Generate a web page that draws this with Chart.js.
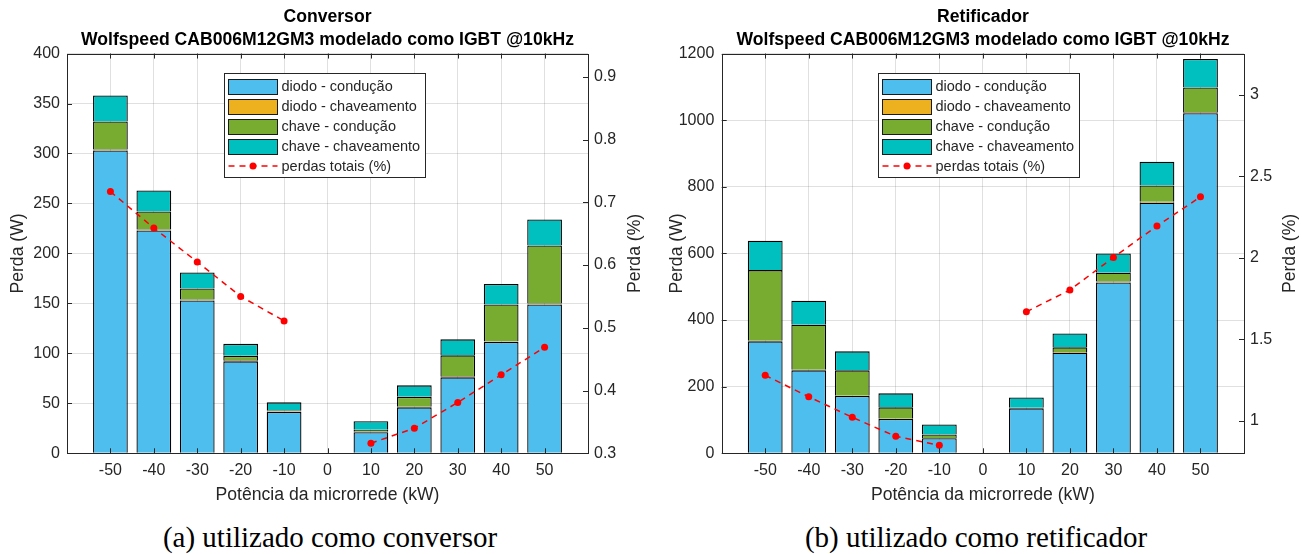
<!DOCTYPE html>
<html lang="pt">
<head>
<meta charset="utf-8">
<title>Perdas CAB006M12GM3</title>
<script src="https://cdn.jsdelivr.net/npm/chart.js@4"></script>
<style>
  body { margin: 0; background: #fff; width: 1311px; height: 554px; position: relative; overflow: hidden; }
  canvas { position: absolute; top: 0; }
  #conv { left: 0; }
  #ret { left: 655px; }
  .legenda {
    position: absolute; top: 519px;
    font-family: "Liberation Serif", "Times New Roman", serif;
    font-size: 29px; line-height: 36px; color: #000;
    transform: translateX(-50%); white-space: nowrap;
  }
</style>
</head>
<body>
<canvas id="conv" width="655" height="510"></canvas>
<canvas id="ret" width="656" height="510"></canvas>
<div class="legenda" style="left:330px">(a) utilizado como conversor</div>
<div class="legenda" style="left:976px">(b) utilizado como retificador</div>
<script>
// categorias (kW)
const potencia = [-50, -40, -30, -20, -10, 0, 10, 20, 30, 40, 50];

// conversor - perdas em W
const convDiodoCond = [303, 223, 153, 92, 41.5, null, 21, 46, 76, 111.5, 149];
const convDiodoChav = [1, 1, 1, 1, 0.5, null, 0.5, 0.5, 1, 0.5, 1];
const convChaveCond = [28, 18, 11, 4.5, 1, null, 2, 10, 21, 37, 58];
const convChaveChav = [26, 21, 16, 12, 8, null, 8.5, 11.5, 16, 20.5, 26];
const convPerdaPct = [0.717, 0.659, 0.605, 0.550, 0.511, null, 0.316, 0.340, 0.381, 0.425, 0.469];

// retificador - perdas em W
const retDiodoCond = [336, 249, 172, 103, 45, null, 135, 302, 513, 752, 1021];
const retDiodoChav = [2, 2, 1, 1, 0.5, null, 1, 2, 3, 3, 3];
const retChaveCond = [212, 135, 76, 34, 11, null, 0.5, 14, 26, 49, 74];
const retChaveChav = [88, 72, 57, 42, 30, null, 31, 42, 58, 71, 86];
const retPerdaPct = [1.279, 1.147, 1.021, 0.904, 0.849, null, 1.669, 1.803, 2.003, 2.196, 2.375];

// ticks
const convTicksW = [0, 50, 100, 150, 200, 250, 300, 350, 400];
const convTicksPct = [0.3, 0.4, 0.5, 0.6, 0.7, 0.8, 0.9];
const retTicksW = [0, 200, 400, 600, 800, 1000, 1200];
const retTicksPct = [1, 1.5, 2, 2.5, 3];

const nomesSeries = ['diodo - condução', 'diodo - chaveamento', 'chave - condução', 'chave - chaveamento', 'perdas totais (%)'];
const coresSeries = ['#4DBEEE', '#EDB120', '#77AC30', '#00BFBF'];

const FONTE = '"Liberation Sans", Arial, Helvetica, sans-serif';
const COR_EIXO = '#262626';
const COR_GRADE = 'rgba(38,38,38,0.14)';

Chart.defaults.font.family = FONTE;
Chart.defaults.color = COR_EIXO;

// caixa do eixo, ticks para dentro, legenda e titulo do eixo direito (estilo MATLAB)
const eixosMatlab = {
  id: 'eixosMatlab',
  afterDatasetsDraw(chart) {
    const { ctx, chartArea: a, scales } = chart;
    const r = v => Math.round(v) + 0.5;
    ctx.save();
    ctx.strokeStyle = COR_EIXO;
    ctx.lineWidth = 1;
    ctx.beginPath();
    scales.x.ticks.forEach(t => {
      const px = r(scales.x.getPixelForValue(t.value));
      ctx.moveTo(px, a.bottom); ctx.lineTo(px, a.bottom - 5);
      ctx.moveTo(px, a.top); ctx.lineTo(px, a.top + 5);
    });
    scales.y.ticks.forEach(t => {
      const py = r(scales.y.getPixelForValue(t.value));
      ctx.moveTo(a.left, py); ctx.lineTo(a.left + 5, py);
    });
    scales.y1.ticks.forEach(t => {
      const py = r(scales.y1.getPixelForValue(t.value));
      ctx.moveTo(a.right, py); ctx.lineTo(a.right - 5, py);
    });
    ctx.stroke();
    ctx.strokeRect(r(a.left), r(a.top), Math.round(a.right) - Math.round(a.left), Math.round(a.bottom) - Math.round(a.top));
    ctx.restore();
  },
  afterDraw(chart, args, opts) {
    const { ctx, chartArea: a } = chart;
    ctx.save();
    // legenda
    const bx = Math.round(a.left + 156.5) + 0.5;
    const by = Math.round(a.top + 19) + 0.5;
    ctx.fillStyle = '#fff';
    ctx.fillRect(bx, by, 201, 104);
    ctx.strokeStyle = COR_EIXO;
    ctx.lineWidth = 1;
    ctx.strokeRect(bx, by, 201, 104);
    ctx.font = '14.5px ' + FONTE;
    ctx.textBaseline = 'middle';
    chart.data.datasets.forEach((ds, i) => {
      const yc = by + 12.5 + i * 20;
      if (ds.type === 'line') {
        ctx.strokeStyle = ds.borderColor;
        ctx.lineWidth = ds.borderWidth;
        ctx.setLineDash(ds.borderDash);
        ctx.beginPath();
        ctx.moveTo(bx + 4, yc); ctx.lineTo(bx + 53, yc);
        ctx.stroke();
        ctx.setLineDash([]);
        ctx.fillStyle = ds.pointBackgroundColor;
        ctx.beginPath();
        ctx.arc(bx + 28.5, yc, ds.pointRadius, 0, Math.PI * 2);
        ctx.fill();
      } else {
        ctx.fillStyle = ds.backgroundColor;
        ctx.fillRect(bx + 4, Math.round(yc - 7.5), 49, 15);
        ctx.strokeStyle = '#1a1a1a';
        ctx.lineWidth = 1;
        ctx.strokeRect(bx + 4, Math.round(yc - 7.5) + 0.5, 49, 15);
      }
      ctx.fillStyle = COR_EIXO;
      ctx.fillText(ds.label, bx + 57, yc + 0.5);
    });
    // titulo do eixo da direita, lido de baixo para cima
    ctx.translate(chart.width - opts.offsetDireita, (a.top + a.bottom) / 2);
    ctx.rotate(-Math.PI / 2);
    ctx.textAlign = 'center';
    ctx.textBaseline = 'middle';
    ctx.fillStyle = COR_EIXO;
    ctx.font = '17.6px ' + FONTE;
    ctx.fillText(opts.tituloDireita, 0, 0);
    ctx.restore();
  }
};

function criarGrafico(id, cfg) {
  const barras = cfg.barras.map((valores, i) => ({
    type: 'bar',
    label: nomesSeries[i],
    data: valores,
    backgroundColor: coresSeries[i],
    borderColor: '#000',
    borderWidth: 1.3,
    barPercentage: 0.8,
    categoryPercentage: 1,
    yAxisID: 'y',
    order: 1
  }));
  const linha = {
    type: 'line',
    label: nomesSeries[4],
    data: cfg.pct,
    borderColor: '#ff0000',
    borderWidth: 1.5,
    borderDash: [6, 5],
    pointRadius: 3.5,
    pointBackgroundColor: '#ff0000',
    pointBorderWidth: 0,
    yAxisID: 'y1',
    order: 0
  };

  return new Chart(document.getElementById(id), {
    type: 'bar',
    data: { labels: potencia, datasets: [...barras, linha] },
    plugins: [eixosMatlab],
    options: {
      responsive: false,
      animation: false,
      layout: { padding: 0 },
      scales: {
        x: {
          type: 'linear',
          min: -60, max: 60,
          stacked: true,
          offset: false,
          afterBuildTicks: s => { s.ticks = potencia.map(v => ({ value: v })); },
          afterFit: s => { s.height = 56.7; },
          grid: { color: COR_GRADE, drawTicks: false, offset: false },
          border: { display: false },
          ticks: { font: { size: 16 }, padding: 8, color: COR_EIXO, callback: v => String(v), maxRotation: 0, autoSkip: false },
          title: { display: true, text: 'Potência da microrrede (kW)', font: { size: 17.6 }, padding: { top: 0, bottom: 4.4 }, color: COR_EIXO }
        },
        y: {
          position: 'left',
          stacked: true,
          min: 0, max: cfg.maxW,
          afterBuildTicks: s => { s.ticks = cfg.ticksW.map(v => ({ value: v })); },
          afterFit: s => { s.width = cfg.larguraEsq; },
          grid: { color: COR_GRADE, drawTicks: false },
          border: { display: false },
          ticks: { font: { size: 16 }, padding: cfg.padEsq, color: COR_EIXO, callback: v => String(v) },
          title: { display: true, text: 'Perda (W)', font: { size: 17.6 }, padding: { top: cfg.offEsq, bottom: 0 }, color: COR_EIXO }
        },
        y1: {
          position: 'right',
          stacked: false,
          min: cfg.minPct, max: cfg.maxPct,
          afterBuildTicks: s => { s.ticks = cfg.ticksPct.map(v => ({ value: v })); },
          afterFit: s => { s.width = cfg.larguraDir; },
          grid: { display: false, drawTicks: false },
          border: { display: false },
          ticks: { font: { size: 16 }, padding: 6, color: COR_EIXO, callback: v => String(v) }
        }
      },
      plugins: {
        legend: { display: false },
        tooltip: { enabled: false },
        title: {
          display: true,
          text: cfg.titulo,
          color: '#000',
          font: { size: 17.6, weight: 'bold', lineHeight: 1.28 },
          padding: { top: 6.25, bottom: 2.25 }
        },
        eixosMatlab: { tituloDireita: 'Perda (%)', offsetDireita: cfg.offDir }
      }
    }
  });
}

criarGrafico('conv', {
  titulo: ['Conversor', 'Wolfspeed CAB006M12GM3 modelado como IGBT @10kHz'],
  barras: [convDiodoCond, convDiodoChav, convChaveCond, convChaveChav],
  pct: convPerdaPct,
  ticksW: convTicksW, ticksPct: convTicksPct,
  maxW: 400, minPct: 0.3, maxPct: 0.937,
  larguraEsq: 67, larguraDir: 67,
  padEsq: 7, offEsq: 7.4, offDir: 20
});

criarGrafico('ret', {
  titulo: ['Retificador', 'Wolfspeed CAB006M12GM3 modelado como IGBT @10kHz'],
  barras: [retDiodoCond, retDiodoChav, retChaveCond, retChaveChav],
  pct: retPerdaPct,
  ticksW: retTicksW, ticksPct: retTicksPct,
  maxW: 1200, minPct: 0.8, maxPct: 3.255,
  larguraEsq: 66.7, larguraDir: 67,
  padEsq: 7.4, offEsq: 11.4, offDir: 21
});
</script>
</body>
</html>
